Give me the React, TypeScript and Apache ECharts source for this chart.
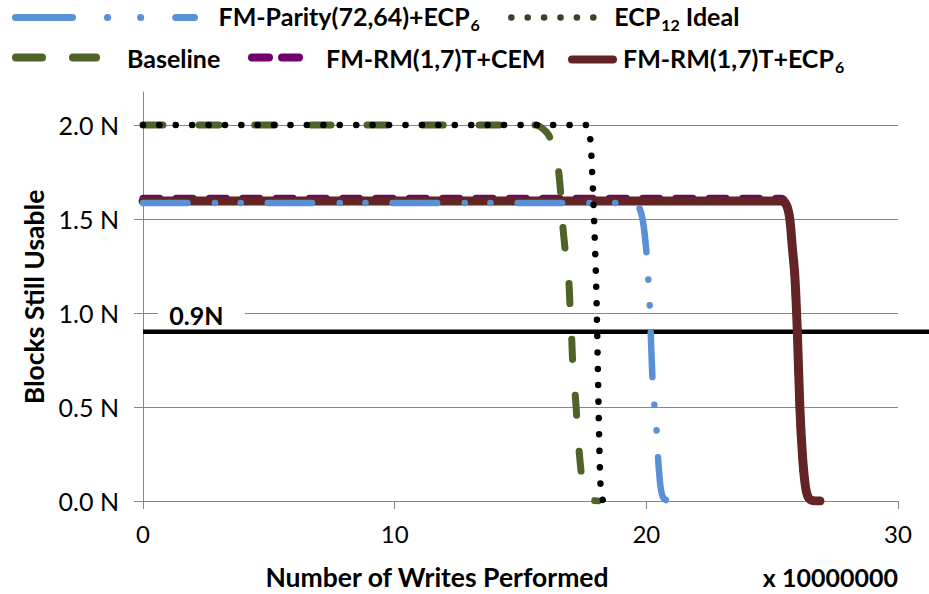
import React, { useEffect, useRef } from 'react';
import * as echarts from 'echarts';

// ---- data (x in units of 10,000,000 writes; y in N) ----
const parityX = [0, 19.5, 19.7, 19.85, 19.98, 20.06, 20.12, 20.16, 20.2, 20.26, 20.34, 20.42, 20.47, 20.56, 20.66, 20.8, 21.2];
const parityY = [1.585, 1.585, 1.565, 1.5, 1.36, 1.22, 1.08, 0.95, 0.8, 0.61, 0.48, 0.35, 0.22, 0.08, 0.02, 0.004, 0];

const idealX = [0, 17.63, 17.76, 17.84, 17.92, 18.0, 18.04, 18.08, 18.12, 18.16, 18.2, 18.28];
const idealY = [2.0, 2.0, 1.94, 1.77, 1.51, 1.19, 0.95, 0.66, 0.38, 0.15, 0.05, 0];

const baselineX = [0, 15.6, 15.84, 16.1, 16.37, 16.5, 16.6, 16.67, 16.78, 16.91, 16.97, 17.03, 17.08, 17.2, 17.28, 17.36, 17.45, 17.55, 17.7, 18.08];
const baselineY = [2.0, 2.0, 1.985, 1.95, 1.86, 1.77, 1.63, 1.48, 1.33, 1.19, 1.03, 0.88, 0.72, 0.52, 0.35, 0.22, 0.11, 0.04, 0.01, 0];

const cemX = [0, 25.38, 25.56, 25.68, 25.78, 25.88, 25.98, 26.08, 26.18, 26.28, 26.38, 26.52, 26.85];
const cemY = [1.61, 1.61, 1.58, 1.5, 1.36, 1.2, 0.9, 0.5, 0.25, 0.1, 0.03, 0.005, 0];

const ecp6X = [0, 25.4, 25.58, 25.7, 25.8, 25.9, 26.0, 26.1, 26.2, 26.3, 26.4, 26.55, 26.9];
const ecp6Y = [1.595, 1.595, 1.57, 1.5, 1.35, 1.2, 0.9, 0.5, 0.25, 0.1, 0.03, 0.005, 0];

// the 0.9N reference line runs past the plot's right edge, to the picture's edge
const thresholdX = [0, 31.23];
const thresholdY = [0.9, 0.9];
const thresholdLabel = '0.9N';

const xTickValues = [0, 10, 20, 30];
const yTickValues = [0, 0.5, 1.0, 1.5, 2.0];
const X_MAX = 30;
const Y_MAX = 2.175;
const X_MAX_WIDE = 31.23;

const NAME_PARITY = 'FM-Parity(72,64)+ECP6';
const NAME_IDEAL = 'ECP12 Ideal';
const NAME_BASE = 'Baseline';
const NAME_CEM = 'FM-RM(1,7)T+CEM';
const NAME_ECP6 = 'FM-RM(1,7)T+ECP6';

const legendRich: Record<string, string> = {
  [NAME_PARITY]: '{m|FM-Parity(72,64)+ECP}{s|6}',
  [NAME_IDEAL]: '{m|ECP}{s|12}{m| Ideal}',
  [NAME_BASE]: '{m|Baseline}',
  [NAME_CEM]: '{m|FM-RM(1,7)T+CEM}',
  [NAME_ECP6]: '{m|FM-RM(1,7)T+ECP}{s|6}',
};

const FONT = 'Lato';
const zip = (xs: number[], ys: number[]) => xs.map((x, i) => [x, ys[i]]);

export default function App() {
  const ref = useRef<HTMLDivElement>(null);
  useEffect(() => {
    const chart = echarts.init(ref.current!, null, { renderer: 'svg' });
    const rich = {
      m: { fontFamily: FONT, fontWeight: 'bold', fontSize: 25, color: '#000', verticalAlign: 'top' },
      s: { fontFamily: FONT, fontWeight: 'bold', fontSize: 16, color: '#000', verticalAlign: 'top', padding: [13, 0, 0, 1] },
    };
    const mkLegend = (name: string, left: number, top: number, itemWidth: number, gap: number, lineStyle: any) => ({
      data: [name],
      left,
      top,
      padding: 0,
      itemWidth,
      itemHeight: 30,
      selectedMode: false,
      formatter: (n: string) => legendRich[n] || n,
      textStyle: { rich, padding: [0, 0, 0, gap] },
      itemStyle: { color: 'rgba(0,0,0,0)', borderWidth: 0, borderColor: 'rgba(0,0,0,0)' },
      lineStyle: { cap: 'round', join: 'round', ...lineStyle },
    });

    const option: any = {
      animation: false,
      backgroundColor: '#fff',
      grid: [
        { left: 143, right: 31, top: 92, bottom: 93, containLabel: false },
        { left: 143, right: 0, top: 92, bottom: 93, containLabel: false },
      ],
      legend: [
        mkLegend(NAME_PARITY, 12, 3, 179, 19, { width: 7, type: [57, 35, 0.1, 33, 0.1, 35] }),
        mkLegend(NAME_IDEAL, 508, 3, 84, 14, { width: 6.5, color: '#3f3f2c', type: [0.1, 16.3] }),
        mkLegend(NAME_BASE, 12, 45, 80, 26, { width: 8, type: [26, 31] }),
        mkLegend(NAME_CEM, 248, 45, 47, 22, { width: 8, type: [17, 13] }),
        mkLegend(NAME_ECP6, 568, 45, 41, 5, { width: 8 }),
      ],
      xAxis: [
        {
          type: 'value',
          min: 0,
          max: X_MAX,
          interval: 10,
          axisLine: { show: true, lineStyle: { color: '#878787', width: 1 } },
          axisTick: { show: true, length: 8, lineStyle: { color: '#878787' } },
          splitLine: { show: false },
          axisLabel: {
            margin: 20,
            fontFamily: FONT,
            fontSize: 24,
            color: '#000',
            formatter: (v: number) => (xTickValues.includes(v) ? String(v) : ''),
          },
        },
        { gridIndex: 1, type: 'value', min: 0, max: X_MAX_WIDE, show: false },
      ],
      yAxis: [
        {
          type: 'value',
          min: 0,
          max: Y_MAX,
          interval: 0.5,
          axisLine: { show: true, lineStyle: { color: '#878787', width: 1 } },
          axisTick: { show: true, length: 9, lineStyle: { color: '#878787' }, customValues: yTickValues },
          splitLine: {
            show: true,
            lineStyle: { color: ['#878787', '#878787', '#878787', '#878787', '#878787', 'rgba(0,0,0,0)'], width: 1 },
          },
          axisLabel: {
            margin: 24,
            customValues: yTickValues,
            fontFamily: FONT,
            fontSize: 25,
            color: '#000',
            formatter: (v: number) => (yTickValues.some((t) => Math.abs(t - v) < 1e-9) ? v.toFixed(1) + ' N' : ''),
          },
        },
        { gridIndex: 1, type: 'value', min: 0, max: Y_MAX, show: false },
      ],
      graphic: [
        {
          type: 'text',
          x: 34,
          y: 297,
          rotation: Math.PI / 2,
          style: {
            text: 'Blocks Still Usable',
            fontFamily: FONT,
            fontWeight: 'bold',
            fontSize: 26.5,
            fill: '#000',
            textAlign: 'center',
            textVerticalAlign: 'middle',
          },
        },
        {
          type: 'text',
          x: 437,
          y: 577,
          style: {
            text: 'Number of Writes Performed',
            fontFamily: FONT,
            fontWeight: 'bold',
            fontSize: 26.5,
            fill: '#000',
            textAlign: 'center',
            textVerticalAlign: 'middle',
          },
        },
        {
          type: 'text',
          x: 898,
          y: 577,
          style: {
            text: 'x 10000000',
            fontFamily: FONT,
            fontWeight: 'bold',
            fontSize: 25,
            fill: '#000',
            textAlign: 'right',
            textVerticalAlign: 'middle',
          },
        },
      ],
      series: [
        {
          name: '0.9N threshold',
          type: 'line',
          xAxisIndex: 1,
          yAxisIndex: 1,
          data: zip(thresholdX, thresholdY),
          symbol: 'none',
          silent: true,
          lineStyle: { color: '#000', width: 4.5 },
          markPoint: {
            silent: true,
            symbol: 'rect',
            symbolSize: [87, 28],
            itemStyle: { color: '#fff' },
            label: {
              show: true,
              formatter: thresholdLabel,
              fontFamily: FONT,
              fontWeight: 'bold',
              fontSize: 25,
              color: '#000',
              offset: [-5, 3],
            },
            data: [{ coord: [2.32, 1.005] }],
          },
        },
        {
          name: NAME_CEM,
          type: 'line',
          data: zip(cemX, cemY),
          symbol: 'none',
          smooth: 0.3,
          color: '#71006f',
          lineStyle: { color: '#71006f', width: 7, type: [17, 16.3], cap: 'round', join: 'round' },
        },
        {
          name: NAME_ECP6,
          type: 'line',
          data: zip(ecp6X, ecp6Y),
          symbol: 'none',
          smooth: 0.3,
          color: '#632523',
          lineStyle: { color: '#632523', width: 9, cap: 'round', join: 'round' },
        },
        {
          name: NAME_PARITY,
          type: 'line',
          data: zip(parityX, parityY),
          symbol: 'none',
          smooth: 0.3,
          color: '#5990d6',
          lineStyle: { color: '#5990d6', width: 6.5, type: [44.5, 27.5, 0.1, 25.6, 0.1, 27], cap: 'round', join: 'round' },
        },
        {
          name: NAME_BASE,
          type: 'line',
          data: zip(baselineX, baselineY),
          symbol: 'none',
          smooth: 0.3,
          color: '#4f6228',
          lineStyle: { color: '#4f6228', width: 7, type: [20, 36], cap: 'round', join: 'round' },
        },
        {
          name: NAME_IDEAL,
          type: 'line',
          data: zip(idealX, idealY),
          symbol: 'none',
          smooth: 0.3,
          color: '#000',
          lineStyle: { color: '#000', width: 6.5, type: [0.1, 16.3], cap: 'round', join: 'round' },
        },
      ],
    };
    chart.setOption(option);
    return () => chart.dispose();
  }, []);
  return <div ref={ref} style={{ position: 'absolute', left: 0, top: 0, width: 929, height: 594 }} />;
}
